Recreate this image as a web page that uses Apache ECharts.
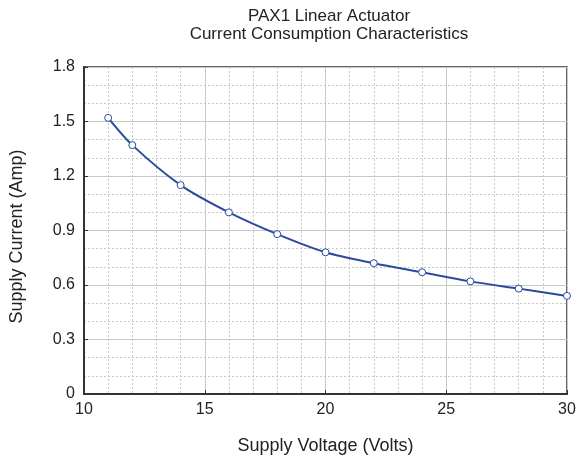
<!DOCTYPE html>
<html><head><meta charset="utf-8">
<script src="https://cdn.jsdelivr.net/npm/echarts@6/dist/echarts.min.js"></script>
<style>html,body{margin:0;padding:0;background:#fff}#c{width:587px;height:461px}</style>
</head><body><div id="c"></div>
<script>
const voltage = [11, 12, 14, 16, 18, 20, 22, 24, 26, 28, 30];
const current = [1.52, 1.37, 1.15, 1.00, 0.88, 0.78, 0.72, 0.67, 0.62, 0.58, 0.54];
const titleLines = ['PAX1 Linear Actuator', 'Current Consumption Characteristics'];

const chart = echarts.init(document.getElementById('c'), null, {renderer: 'canvas'});
const font = 'Liberation Sans, Arial, sans-serif';
chart.setOption({
  animation: false,
  title: {
    text: titleLines.join('\n'), left: 324, top: 2, textAlign: 'center',
    textStyle: {fontFamily: font, fontSize: 17, fontWeight: 'normal', color: '#222', lineHeight: 18}
  },
  grid: {left: 84, top: 67, right: 20, bottom: 67, show: true, borderColor: '#333', borderWidth: 1.5},
  xAxis: {
    type: 'value', min: 10, max: 30, interval: 5,
    name: 'Supply Voltage (Volts)', nameLocation: 'middle', nameGap: 43,
    nameTextStyle: {fontFamily: font, fontSize: 18, color: '#222'},
    axisLine: {show: true, lineStyle: {color: '#333', width: 2}},
    axisTick: {show: true, inside: true, length: 4, lineStyle: {color: '#333'}},
    axisLabel: {fontFamily: font, fontSize: 16, color: '#222', margin: 8},
    splitLine: {show: true, lineStyle: {color: '#c8c8c8', width: 1}},
    minorTick: {show: false, splitNumber: 5},
    minorSplitLine: {show: true, lineStyle: {color: '#c8c8c8', type: [2, 2], width: 1}}
  },
  yAxis: {
    type: 'value', min: 0, max: 1.8, interval: 0.3,
    name: 'Supply Current (Amp)', nameLocation: 'middle', nameGap: 58,
    nameTextStyle: {fontFamily: font, fontSize: 18, color: '#222', padding: [0, 12, 0, 0]},
    axisLine: {show: true, lineStyle: {color: '#333', width: 2}},
    axisTick: {show: true, inside: true, length: 4, lineStyle: {color: '#333'}},
    axisLabel: {fontFamily: font, fontSize: 16, color: '#222', margin: 9,
      formatter: v => (Math.round(v * 10) / 10).toString()},
    splitLine: {show: true, lineStyle: {color: '#c8c8c8', width: 1}},
    minorTick: {show: false, splitNumber: 3},
    minorSplitLine: {show: true, lineStyle: {color: '#c8c8c8', type: [2, 2], width: 1}}
  },
  series: [{
    type: 'line', data: voltage.map((v, i) => [v, current[i]]),
    smooth: 0.3, symbol: 'circle', symbolSize: 7, clip: false,
    lineStyle: {color: '#2b4a9e', width: 2},
    itemStyle: {color: '#ffffff', borderColor: '#2b4a9e', borderWidth: 1}
  }]
});
</script></body></html>
